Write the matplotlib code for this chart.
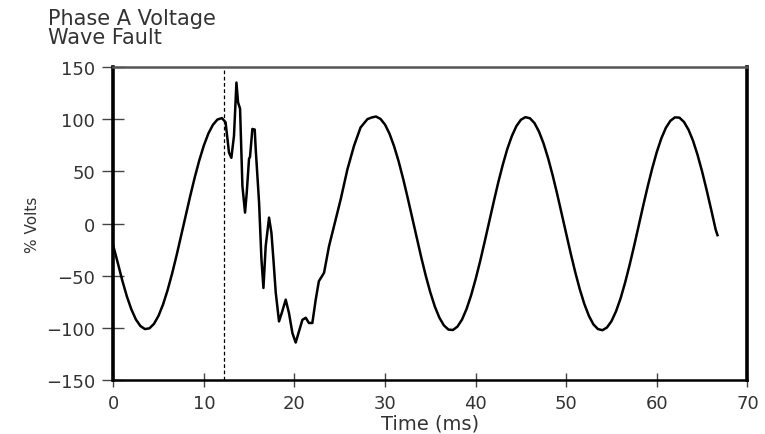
import matplotlib.pyplot as plt

# ---------- data ----------
# steady sine before the fault
pre_fault_t = [0.0, 0.5, 1.0, 1.5, 2.0, 2.5, 3.0, 3.5, 4.0, 4.5, 5.0, 5.5,
               6.0, 6.5, 7.0, 7.5, 8.0, 8.5, 9.0, 9.5, 10.0, 10.5, 11.0,
               11.5, 12.0]
pre_fault_v = [-21.0, -37.4, -54.3, -69.4, -81.9, -91.6, -97.9, -100.8,
               -100.1, -95.8, -88.1, -77.3, -63.6, -47.7, -30.1, -11.4,
               7.6, 26.5, 44.3, 60.6, 74.7, 86.2, 94.5, 99.6, 101.0]

# distorted part after the fault starts
fault_t = [12.4, 12.78, 13.04, 13.33, 13.6, 13.78, 14.0, 14.26, 14.55,
           14.74, 14.99, 15.1, 15.36, 15.62, 15.73, 16.1, 16.36, 16.58,
           16.83, 17.0, 17.2, 17.46, 17.68, 17.94, 18.3, 18.6, 19.04,
           19.4, 19.78, 20.14, 20.5, 20.88, 21.25, 21.6, 21.98, 22.35,
           22.7, 23.27, 23.82, 24.37, 25.1, 25.85, 26.58, 27.3, 28.06]
fault_v = [97.0, 68.0, 63.0, 84.0, 135.0, 116.0, 110.0, 36.0, 10.6,
           30.0, 62.0, 64.0, 90.6, 90.0, 71.0, 20.0, -34.0, -61.5,
           -21.5, -9.0, 5.8, -8.6, -34.0, -66.0, -93.5, -85.5, -72.7,
           -85.5, -104.7, -113.7, -103.0, -92.0, -90.0, -95.0, -95.0, -72.7,
           -55.0, -47.0, -21.5, -2.3, 23.0, 52.0, 74.5, 92.0, 100.0]

# recovered sine after the fault
post_fault_t = [28.5, 29.0, 29.5, 30.0, 30.5, 31.0, 31.5, 32.0, 32.5, 33.0,
                33.5, 34.0, 34.5, 35.0, 35.5, 36.0, 36.5, 37.0, 37.5, 38.0,
                38.5, 39.0, 39.5, 40.0, 40.5, 41.0, 41.5, 42.0, 42.5, 43.0,
                43.5, 44.0, 44.5, 45.0, 45.5, 46.0, 46.5, 47.0, 47.5, 48.0,
                48.5, 49.0, 49.5, 50.0, 50.5, 51.0, 51.5, 52.0, 52.5, 53.0,
                53.5, 54.0, 54.5, 55.0, 55.5, 56.0, 56.5, 57.0, 57.5, 58.0,
                58.5, 59.0, 59.5, 60.0, 60.5, 61.0, 61.5, 62.0, 62.5, 63.0,
                63.5, 64.0, 64.5, 65.0, 65.5, 66.0, 66.5, 66.7]
post_fault_v = [101.5, 102.5, 100.2, 94.8, 86.0, 74.1, 59.7, 43.0, 24.8, 5.8,
                -13.5, -32.2, -49.9, -65.7, -79.3, -89.9, -97.3, -101.3, -101.7, -98.4,
                -91.7, -81.6, -68.6, -53.1, -35.9, -17.3, 1.9, 21.0, 39.5, 56.4,
                71.5, 83.8, 93.3, 99.4, 101.9, 100.8, 96.2, 88.0, 76.7, 62.7,
                46.4, 28.5, 9.5, -9.7, -28.6, -46.5, -62.8, -76.8, -88.1, -96.3,
                -100.8, -101.9, -99.3, -93.2, -83.8, -71.5, -56.4, -39.4, -21.1, -1.9,
                17.3, 35.8, 53.1, 68.6, 81.6, 91.7, 98.4, 101.7, 101.4, 97.3,
                89.9, 79.3, 65.7, 49.9, 32.2, 13.5, -5.8, -11.0]

fault_start_ms = 12.25

x_ticks = [0, 10, 20, 30, 40, 50, 60, 70]
y_ticks = [-150, -100, -50, 0, 50, 100, 150]

# ---------- plot ----------
plt.rcParams["font.family"] = ["DejaVu Sans"]
text_col = "#333333"

time_ms = pre_fault_t + fault_t + post_fault_t
volts = pre_fault_v + fault_v + post_fault_v

fig = plt.figure(figsize=(7.65, 4.35), dpi=100)
ax = fig.add_axes([0.148, 0.123, 0.829, 0.721])

ax.plot(time_ms, volts, color="black", linewidth=1.8, solid_joinstyle="round")
ax.axvline(fault_start_ms, color="black", linewidth=0.9, linestyle=(0, (3, 2)))

ax.set_xlim(0, 70)
ax.set_ylim(-150, 150)
ax.set_xticks(x_ticks)
ax.set_yticks(y_ticks)
ax.set_yticklabels([str(v).replace("-", "\u2212") for v in y_ticks])

ax.tick_params(axis="y", direction="inout", length=16, width=1.0,
               labelsize=13, colors=text_col, pad=5)
ax.tick_params(axis="x", direction="inout", length=10, width=1.0,
               labelsize=13, colors=text_col, pad=5)
ax.tick_params(color="#444444")

ax.spines["left"].set_linewidth(2.6)
ax.spines["right"].set_linewidth(2.6)
ax.spines["bottom"].set_linewidth(1.8)
ax.spines["top"].set_linewidth(1.8)
ax.spines["top"].set_color("#555555")

ax.set_xlabel("Time (ms)", fontsize=14, color=text_col, labelpad=1)
ax.set_ylabel("% Volts", fontsize=11, color=text_col, labelpad=4)

fig.text(0.063, 0.98, "Phase A Voltage\nWave Fault", fontsize=15,
         color=text_col, ha="left", va="top", linespacing=0.95)

fig.savefig("out.png", dpi=100)
